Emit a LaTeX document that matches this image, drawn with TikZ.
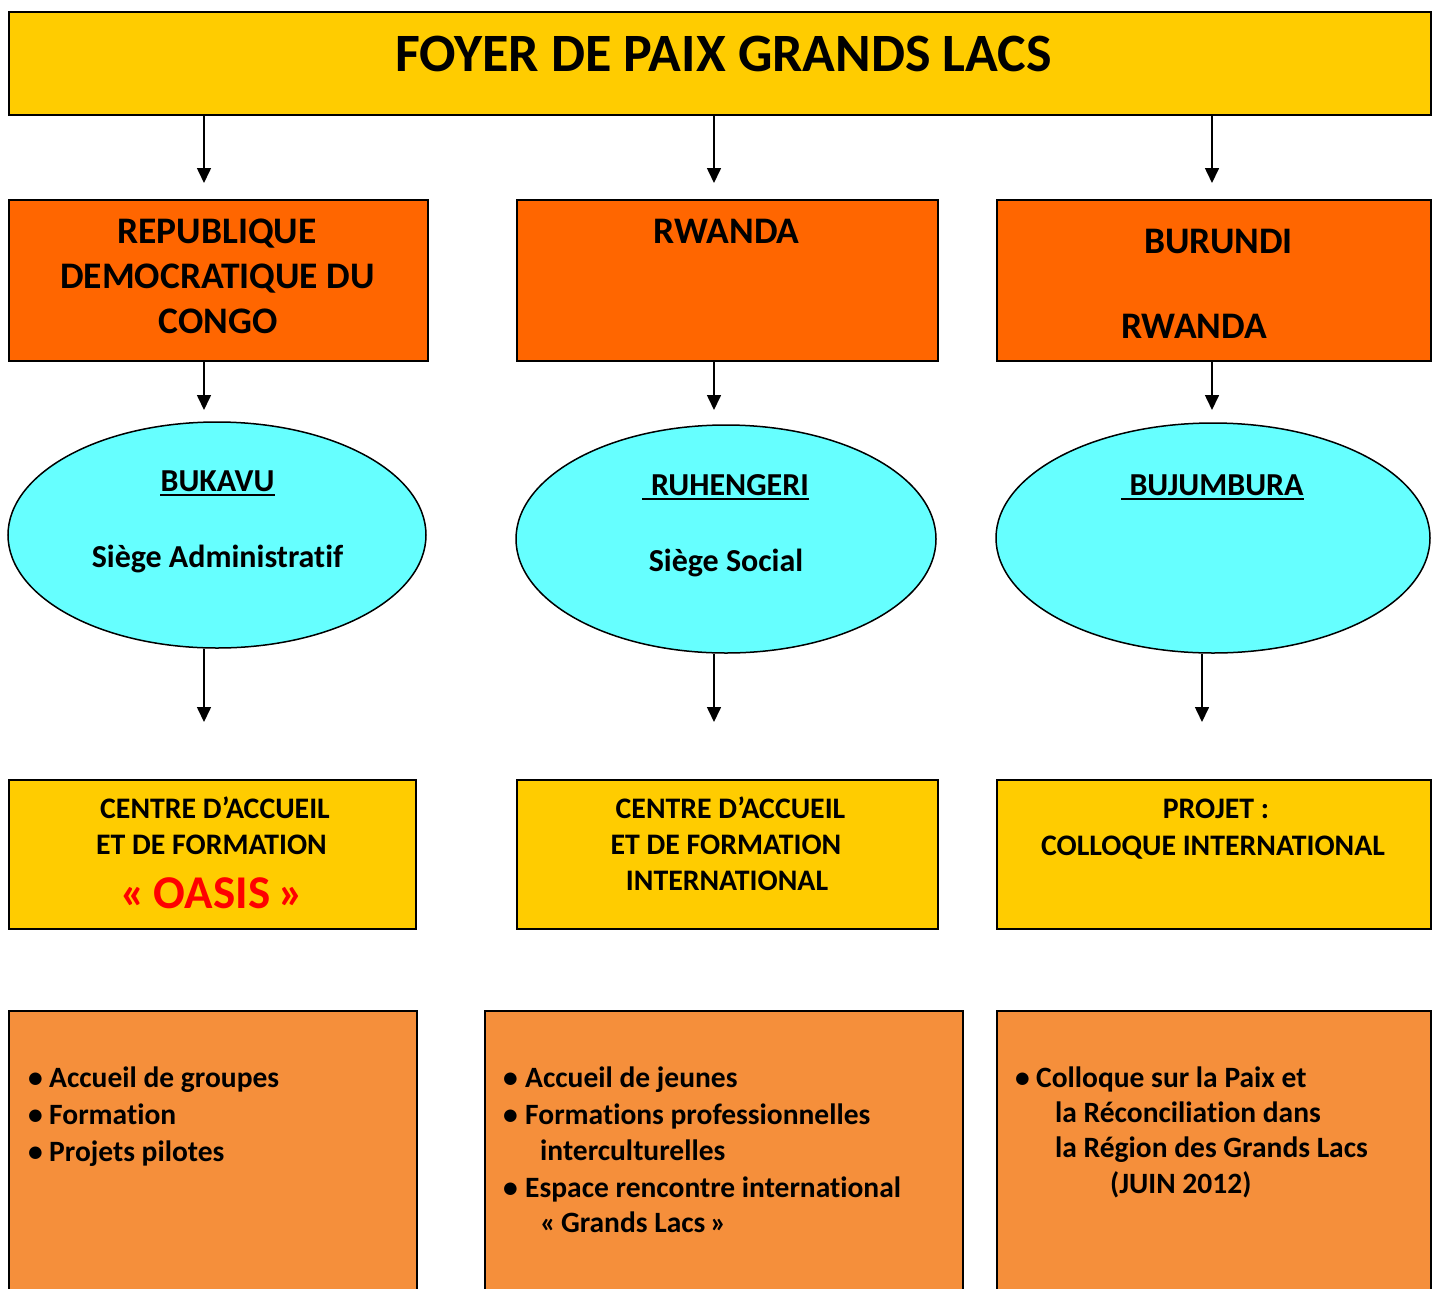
\documentclass[tikz,border=0pt]{standalone}
\usepackage{fontspec}
\setmainfont[Ligatures=NoCommon]{Carlito}
\usetikzlibrary{arrows.meta,shapes.geometric}
\definecolor{ttlyel}{HTML}{FFCC00}
\definecolor{cntor}{HTML}{FF6600}
\definecolor{cityc}{HTML}{66FFFF}
\definecolor{actor}{HTML}{F58F3B}
\definecolor{oasred}{HTML}{FF0000}
\tikzset{
  boxsty/.style={draw=black, line width=1.6pt, rectangle, inner sep=0pt, anchor=north west},
  ybox/.style={boxsty, fill=ttlyel},
  obox/.style={boxsty, fill=cntor},
  abox/.style={boxsty, fill=actor},
  ell/.style={draw=black, line width=1.5pt, ellipse, fill=cityc, inner sep=0pt},
  arr/.style={draw=black, line width=1.6pt, -{Triangle[width=14pt,length=15pt]}},
  txt/.style={inner sep=0pt, anchor=base, font=\bfseries\fontsize{29.8}{35}\selectfont},
  etxt/.style={txt, font=\bfseries\fontsize{32}{38}\selectfont},
  big/.style={txt, font=\bfseries\fontsize{37.5}{45}\selectfont},
  lt/.style={txt, anchor=base west, font=\bfseries\fontsize{29.5}{35}\selectfont},
  uline/.style={draw=black, line width=2.6pt}
}
\newcommand\bulA[1]{\makebox[#1][l]{•}}
\begin{document}
\begin{tikzpicture}[x=1pt,y=-1pt]
\useasboundingbox (0,0) rectangle (1437,1288);
% boxes
\node[ybox, minimum width=1422pt, minimum height=103pt] (title) at (8,11) {};
\node[obox, minimum width=419pt, minimum height=161pt] (o1) at (8,199) {};
\node[obox, minimum width=421pt, minimum height=161pt] (o2) at (516,199) {};
\node[obox, minimum width=434pt, minimum height=161pt] (o3) at (996,199) {};
\node[ell, minimum width=418pt, minimum height=226pt] (e1) at (217,535) {};
\node[ell, minimum width=420pt, minimum height=228pt] (e2) at (726,539) {};
\node[ell, minimum width=434pt, minimum height=230pt] (e3) at (1213,538) {};
\node[ybox, minimum width=407pt, minimum height=149pt] (y1) at (8,779) {};
\node[ybox, minimum width=421pt, minimum height=149pt] (y2) at (516,779) {};
\node[ybox, minimum width=434pt, minimum height=149pt] (y3) at (996,779) {};
\node[abox, minimum width=408pt, minimum height=300pt] (l1) at (8,1010) {};
\node[abox, minimum width=478pt, minimum height=300pt] (l2) at (484,1010) {};
\node[abox, minimum width=434pt, minimum height=300pt] (l3) at (996,1010) {};
% arrow end points
\coordinate (a1) at (204,183);
\coordinate (a2) at (714,183);
\coordinate (a3) at (1212,183);
\coordinate (b1) at (204,410);
\coordinate (b2) at (714,410);
\coordinate (b3) at (1212,410);
\coordinate (c1) at (204,722);
\coordinate (c2) at (714,722);
\coordinate (c3) at (1202,722);
\draw[arr] (title.south -| a1) -- (a1);
\draw[arr] (title.south -| a2) -- (a2);
\draw[arr] (title.south -| a3) -- (a3);
\draw[arr] (o1.south -| b1) -- (b1);
\draw[arr] (o2.south -| b2) -- (b2);
\draw[arr] (o3.south -| b3) -- (b3);
\draw[arr] (e1.south -| c1) -- (c1);
\draw[arr] (e2.south -| c2) -- (c2);
\draw[arr] (e3.south -| c3) -- (c3);
% title
\node[txt, font=\bfseries\fontsize{54}{60}\selectfont] (tt) at (723.5,71) {FOYER DE PAIX GRANDS LACS};
% row 1
\node[big] (r1a) at (217,243) {REPUBLIQUE};
\node[big] (r1b) at (217.5,288) {DEMOCRATIQUE DU};
\node[big] (r1c) at (218,333) {CONGO};
\node[big] (r2a) at (726.5,243) {RWANDA};
\node[big] (r3a) at (1218.5,253) {BURUNDI};
\node[big] (r3b) at (1194,338) {RWANDA};
% ellipses
\node[etxt] (bk) at (217.5,491) {BUKAVU};
\node[etxt] (bks) at (217.5,567) {Siège Administratif};
\node[etxt] (ru) at (730,495) {RUHENGERI};
\node[etxt] (rus) at (726,571) {Siège Social};
\node[etxt] (bj) at (1216.5,495) {BUJUMBURA};
\draw[uline] ([yshift=-4pt]bk.base west) -- ([yshift=-4pt]bk.base east);
\draw[uline] ([xshift=-9pt,yshift=-4pt]ru.base west) -- ([yshift=-4pt]ru.base east);
\draw[uline] ([xshift=-8pt,yshift=-4pt]bj.base west) -- ([yshift=-4pt]bj.base east);
% row 2
\node[txt] (y1a) at (215,818) {CENTRE D’ACCUEIL};
\node[txt] (y1b) at (211.5,854) {ET DE FORMATION};
\node[txt, text=oasred, font=\bfseries\fontsize{47}{50}\selectfont] (y1c) at (212,908) {«\,OASIS\,»};
\node[txt] (y2a) at (730.5,818) {CENTRE D’ACCUEIL};
\node[txt] (y2b) at (726,854) {ET DE FORMATION};
\node[txt] (y2c) at (727,890) {INTERNATIONAL};
\node[txt] (y3a) at (1216,818) {PROJET :};
\node[txt] (y3b) at (1213,855) {COLLOQUE INTERNATIONAL};
% lower lists
\node[lt] (p1a) at (28,1087) {\bulA{21pt}Accueil de groupes};
\node[lt] (p1b) at (28,1124) {\bulA{21pt}Formation};
\node[lt] (p1c) at (28,1161) {\bulA{21pt}Projets pilotes};
\node[lt] (p2a) at (503,1087) {\bulA{22pt}Accueil de jeunes};
\node[lt] (p2b) at (503,1124) {\bulA{22pt}Formations professionnelles};
\node[lt] (p2c) at (540,1160) {interculturelles};
\node[lt] (p2d) at (503,1197) {\bulA{22pt}Espace rencontre international};
\node[lt] (p2e) at (540,1232) {«\,Grands Lacs\,»};
\node[lt] (p3a) at (1015,1087) {\bulA{21pt}Colloque sur la Paix et};
\node[lt] (p3b) at (1055,1122) {la Réconciliation dans};
\node[lt] (p3c) at (1055,1157) {la Région des Grands Lacs};
\node[lt] (p3d) at (1110,1193) {(JUIN 2012)};
\end{tikzpicture}
\end{document}
